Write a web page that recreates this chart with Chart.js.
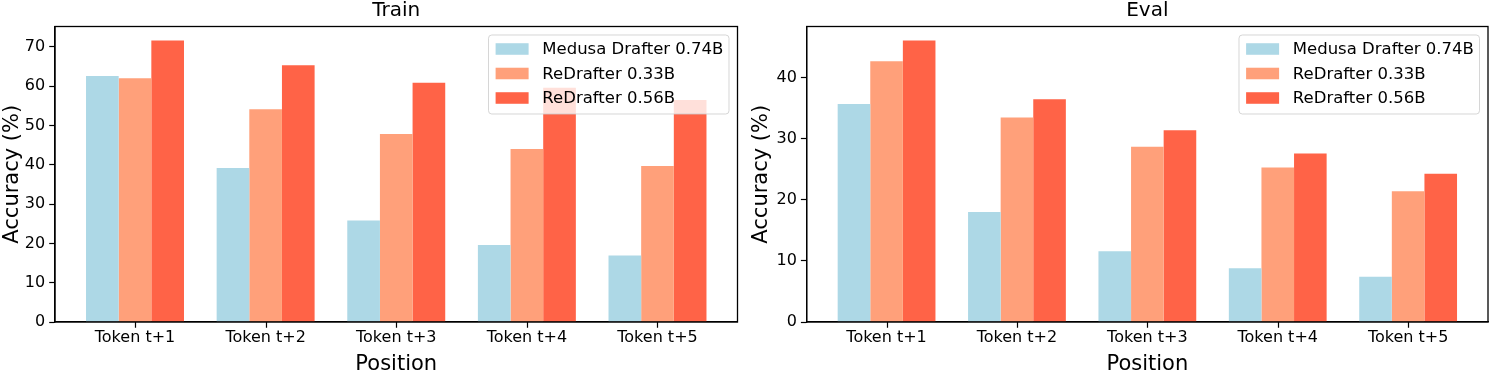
<!DOCTYPE html>
<html>
<head>
<meta charset="utf-8">
<script src="https://cdn.jsdelivr.net/npm/chart.js@4.4.1/dist/chart.umd.min.js"></script>
<style>
html, body { margin: 0; padding: 0; background: #ffffff; }
#wrap { position: relative; width: 1492px; height: 375px; overflow: hidden; }
.cell { position: absolute; top: 0; width: 746px; height: 375px; }
</style>
</head>
<body>
<div id="wrap">
  <div class="cell" style="left:0px"><canvas id="trainChart" width="746" height="375"></canvas></div>
  <div class="cell" style="left:746px"><canvas id="evalChart" width="746" height="375"></canvas></div>
</div>
<script>
// ---- Data ----
const categories = ['Token t+1', 'Token t+2', 'Token t+3', 'Token t+4', 'Token t+5'];
const seriesNames = ['Medusa Drafter 0.74B', 'ReDrafter 0.33B', 'ReDrafter 0.56B'];

const trainMedusa074 = [62.6, 39.2, 25.8, 19.6, 16.9];
const trainReDrafter033 = [62.0, 54.1, 47.8, 44.0, 39.7];
const trainReDrafter056 = [71.6, 65.3, 60.9, 59.6, 56.5];

const evalMedusa074 = [35.7, 18.0, 11.6, 8.8, 7.4];
const evalReDrafter033 = [42.7, 33.5, 28.7, 25.3, 21.4];
const evalReDrafter056 = [46.1, 36.5, 31.4, 27.6, 24.3];

const trainYTicks = [0, 10, 20, 30, 40, 50, 60, 70];
const evalYTicks = [0, 10, 20, 30, 40];

// ---- Styles ----
const seriesColors = ['#ADD8E6', '#FFA07A', '#FF6347'];
const FONT = "'DejaVu Sans', 'Liberation Sans', sans-serif";
const TICK_LEN = 5.8;

const framePlugin = {
  id: 'frame',
  afterDatasetsDraw(chart, args, opts) {
    const { ctx, chartArea: a } = chart;
    ctx.save();
    ctx.strokeStyle = '#000';
    ctx.lineWidth = 1.3;
    ctx.strokeRect(a.left, a.top, a.right - a.left, a.bottom - a.top);
    // x tick marks at category centres
    const xs = chart.scales.x;
    ctx.lineWidth = 1.2;
    ctx.beginPath();
    categories.forEach((c, i) => {
      const px = Math.round(xs.getPixelForValue(i)) + 0.5;
      ctx.moveTo(px, a.bottom);
      ctx.lineTo(px, a.bottom + TICK_LEN);
    });
    ctx.stroke();
    ctx.restore();
  }
};

const titlePlugin = {
  id: 'centerTitle',
  afterDraw(chart, args, opts) {
    const { ctx, chartArea: a } = chart;
    ctx.save();
    ctx.font = '20px ' + FONT;
    ctx.fillStyle = '#000';
    ctx.textAlign = 'center';
    ctx.textBaseline = 'middle';
    ctx.fillText(opts.text, (a.left + a.right) / 2, 11);
    ctx.restore();
  }
};

const legendPlugin = {
  id: 'mplLegend',
  afterDatasetsDraw(chart, args, opts) {
    const { ctx, chartArea: a } = chart;
    const fs = 16.5;
    ctx.save();
    ctx.font = fs + 'px ' + FONT;
    const labels = chart.data.datasets.map(d => d.label);
    const maxW = Math.max(...labels.map(t => ctx.measureText(t).width));
    const pad = 0.4 * fs, handleW = 2.0 * fs, handleH = 0.7 * fs, gap = 0.8 * fs;
    const rowH = 24.5;
    const boxW = pad + handleW + gap + maxW + pad;
    const boxH = 79;
    const right = a.right - 8.5;
    const top = a.top + 8.5;
    const left = right - boxW;
    ctx.beginPath();
    ctx.roundRect(left, top, boxW, boxH, 3.3);
    ctx.fillStyle = 'rgba(255,255,255,0.8)';
    ctx.fill();
    ctx.strokeStyle = 'rgba(204,204,204,0.8)';
    ctx.lineWidth = 1;
    ctx.stroke();
    chart.data.datasets.forEach((d, i) => {
      const cy = top + 15 + i * rowH;
      ctx.fillStyle = d.backgroundColor;
      ctx.fillRect(left + pad + 0.5, cy - 1 - handleH / 2, handleW, handleH);
      ctx.fillStyle = '#000';
      ctx.textAlign = 'left';
      ctx.textBaseline = 'middle';
      ctx.fillText(d.label, left + pad + handleW + gap + 1, cy);
    });
    ctx.restore();
  }
};

function buildChart(canvasId, titleText, seriesValues, yTicks, areaLeft, padRight, yTitlePad) {
  const dataMax = Math.max(...seriesValues.flat());
  const datasets = seriesValues.map((vals, s) => ({
    label: seriesNames[s],
    data: categories.map((c, i) => ({ x: i, y: vals[i] })),
    backgroundColor: seriesColors[s],
    borderWidth: 0,
    categoryPercentage: 0.75,
    barPercentage: 1.0,
    grouped: true
  }));
  return new Chart(document.getElementById(canvasId), {
    type: 'bar',
    data: { datasets },
    options: {
      responsive: false,
      animation: false,
      devicePixelRatio: 1,
      layout: { padding: { top: 26.5, left: 0, right: padRight, bottom: 0 } },
      plugins: {
        legend: { display: false },
        tooltip: { enabled: false },
        title: { display: false },
        centerTitle: { text: titleText }
      },
      scales: {
        x: {
          type: 'linear',
          min: -0.6125,
          max: categories.length - 1 + 0.6125,
          offset: false,
          afterBuildTicks(scale) { scale.ticks = categories.map((c, i) => ({ value: i })); },
          afterFit(scale) { scale.height = 53; },
          ticks: {
            autoSkip: false,
            maxRotation: 0,
            minRotation: 0,
            padding: TICK_LEN + 0.5,
            color: '#000',
            font: { family: FONT, size: 16 },
            callback: (v, idx) => categories[idx]
          },
          grid: { offset: false, display: true, drawOnChartArea: false, drawTicks: false },
          border: { display: true, color: '#000', width: 1.3 },
          title: { display: true, text: 'Position', color: '#000', font: { family: FONT, size: 21, lineHeight: 1 }, padding: { top: 0, bottom: 0 } }
        },
        y: {
          type: 'linear',
          min: 0,
          max: dataMax * 1.05,
          afterBuildTicks(scale) { scale.ticks = yTicks.map(v => ({ value: v })); },
          afterFit(scale) { scale.width = areaLeft; },
          ticks: { padding: 4, color: '#000', font: { family: FONT, size: 16 }, callback: (v) => String(v) },
          grid: { offset: false, drawOnChartArea: false, drawTicks: true, tickLength: TICK_LEN, tickColor: '#000', tickWidth: 1.2 },
          border: { display: true, color: '#000', width: 1.3 },
          title: { display: true, text: 'Accuracy (%)', color: '#000', font: { family: FONT, size: 21, lineHeight: 1.2 }, padding: { top: yTitlePad, bottom: 0 } }
        }
      }
    },
    plugins: [framePlugin, titlePlugin, legendPlugin]
  });
}

buildChart('trainChart', 'Train', [trainMedusa074, trainReDrafter033, trainReDrafter056], trainYTicks, 55, 8.5, 0);
buildChart('evalChart', 'Eval', [evalMedusa074, evalReDrafter033, evalReDrafter056], evalYTicks, 60.7, 4, 3.4);
</script>
</body>
</html>
